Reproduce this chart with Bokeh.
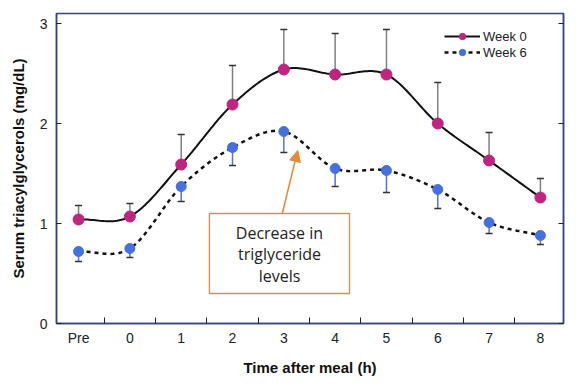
import numpy as np
from bokeh.plotting import figure
from bokeh.models import (FixedTicker, LinearAxis, Range1d, Legend, LegendItem,
                          BoxAnnotation, Arrow, NormalHead, Whisker, ColumnDataSource, TeeHead)
from bokeh.core.properties import value
from bokeh.embed import file_html
from bokeh.resources import INLINE

# ---- data ----
categories = ["Pre", "0", "1", "2", "3", "4", "5", "6", "7", "8"]
week0_mean = [1.04, 1.07, 1.59, 2.19, 2.54, 2.49, 2.49, 2.00, 1.63, 1.26]
week0_upper = [1.18, 1.20, 1.89, 2.58, 2.94, 2.90, 2.94, 2.41, 1.91, 1.45]
week6_mean = [0.72, 0.75, 1.37, 1.76, 1.92, 1.55, 1.53, 1.34, 1.01, 0.88]
week6_lower = [0.62, 0.66, 1.22, 1.58, 1.71, 1.37, 1.31, 1.15, 0.90, 0.79]
y_ticks = [0, 1, 2, 3]
annotation_lines = ["Decrease in", "triglyceride", "levels"]

MAGENTA = "#bf2580"
BLUE = "#4470e0"
FRAME = "#33467e"
FONT = "Liberation Sans"

xs = list(range(len(categories)))
mids = [i + 0.5 for i in xs[:-1]]


def catmull_rom(x, y, n=24):
    x = np.asarray(x, float)
    y = np.asarray(y, float)
    px = np.concatenate([[2 * x[0] - x[1]], x, [2 * x[-1] - x[-2]]])
    py = np.concatenate([[2 * y[0] - y[1]], y, [2 * y[-1] - y[-2]]])
    ox, oy = [], []
    for i in range(1, len(px) - 2):
        t = np.linspace(0, 1, n, endpoint=False)
        for arr, out in ((px, ox), (py, oy)):
            p0, p1, p2, p3 = arr[i - 1], arr[i], arr[i + 1], arr[i + 2]
            out.extend(0.5 * ((2 * p1) + (-p0 + p2) * t
                              + (2 * p0 - 5 * p1 + 4 * p2 - p3) * t ** 2
                              + (-p0 + 3 * p1 - 3 * p2 + p3) * t ** 3))
    ox.append(x[-1]); oy.append(y[-1])
    return ox, oy


p = figure(width=580, height=388, output_backend="svg", toolbar_location=None,
           x_range=Range1d(-0.43, 9.45), y_range=Range1d(0, 3.1),
           min_border_left=56, min_border_right=17, min_border_top=13, min_border_bottom=65,
           background_fill_color="white", border_fill_color="white")
p.grid.visible = False
p.outline_line_color = FRAME
p.outline_line_width = 1.5

# x axis: line + inward ticks between categories
xa = p.xaxis[0]
xa.ticker = FixedTicker(ticks=mids, minor_ticks=[])
xa.major_label_overrides = {m: "" for m in mids}
xa.major_label_text_font_size = "0px"
xa.major_label_standoff = 0
xa.major_tick_in = 6
xa.major_tick_out = 0
xa.major_tick_line_color = "#222222"
xa.minor_tick_line_color = None
xa.axis_line_color = FRAME
xa.axis_line_width = 1.5

# second x axis: category labels + title
xb = LinearAxis(ticker=FixedTicker(ticks=xs, minor_ticks=[]))
xb.major_label_overrides = {i: c for i, c in zip(xs, categories)}
xb.axis_line_color = None
xb.major_tick_line_color = None
xb.major_tick_in = 0
xb.major_tick_out = 0
xb.minor_tick_line_color = None
xb.axis_label = "Time after meal (h)"
xb.axis_label_text_font = FONT
xb.axis_label_text_font_style = "bold"
xb.axis_label_text_font_size = "15px"
xb.axis_label_text_color = "#111111"
xb.axis_label_standoff = 10
xb.major_label_text_font = FONT
xb.major_label_text_font_size = "14px"
xb.major_label_text_color = "#222222"
xb.major_label_standoff = 6
p.add_layout(xb, "below")

# y axis
ya = p.yaxis[0]
ya.ticker = FixedTicker(ticks=y_ticks, minor_ticks=[])
ya.major_tick_in = 5
ya.major_tick_out = 0
ya.major_tick_line_color = "#222222"
ya.minor_tick_line_color = None
ya.axis_line_color = FRAME
ya.axis_line_width = 1.5
ya.axis_label = "Serum triacylglycerols (mg/dL)"
ya.axis_label_text_font = FONT
ya.axis_label_text_font_style = "bold"
ya.axis_label_text_font_size = "15px"
ya.axis_label_text_color = "#111111"
ya.axis_label_standoff = 10
ya.major_label_text_font = FONT
ya.major_label_text_font_size = "14px"
ya.major_label_text_color = "#222222"
ya.major_label_standoff = 9

ra = LinearAxis(ticker=FixedTicker(ticks=y_ticks, minor_ticks=[]))
ra.major_tick_in = 5
ra.major_tick_out = 0
ra.major_tick_line_color = "#222222"
ra.minor_tick_line_color = None
ra.axis_line_color = FRAME
ra.axis_line_width = 1.5
ra.major_label_text_font_size = "0px"
ra.major_label_text_color = None
p.add_layout(ra, "right")

# error bars
src0 = ColumnDataSource(dict(x=xs, base=week0_mean, upper=week0_upper))
src6 = ColumnDataSource(dict(x=xs, base=week6_mean, lower=week6_lower))
w0 = Whisker(source=src0, base="x", lower="base", upper="upper", line_color="#808080",
             line_width=1.5,
             upper_head=TeeHead(size=7, line_color="#333333", line_width=1.5),
             lower_head=None)
w6 = Whisker(source=src6, base="x", lower="lower", upper="base", line_color="#5a72c8",
             line_width=1.5,
             lower_head=TeeHead(size=7, line_color="#333333", line_width=1.5),
             upper_head=None)
p.add_layout(w0)
p.add_layout(w6)

# curves
cx0, cy0 = catmull_rom(xs, week0_mean)
cx6, cy6 = catmull_rom(xs, week6_mean)
l0 = p.line(cx0, cy0, line_color="#111111", line_width=2)
l6 = p.line(cx6, cy6, line_color="#111111", line_width=2.5, line_dash="4 4")
s0 = p.scatter(xs, week0_mean, size=11, fill_color=MAGENTA, line_color=MAGENTA)
s6 = p.scatter(xs, week6_mean, size=10, fill_color=BLUE, line_color=BLUE)

legend = Legend(items=[LegendItem(label="Week 0", renderers=[l0, s0]),
                       LegendItem(label="Week 6", renderers=[l6, s6])],
                location=(388, 263), border_line_color=None, background_fill_alpha=0,
                label_text_font=FONT, label_text_font_size="13px",
                label_text_color="#222222", glyph_width=36, glyph_height=16,
                label_height=16, spacing=0, padding=4, margin=0, label_standoff=3)
p.add_layout(legend)

# annotation box with arrow
box = BoxAnnotation(left=2.55, right=5.28, top=1.10, bottom=0.30,
                    fill_color="white", fill_alpha=1.0,
                    line_color="#e08a50", line_alpha=1.0, line_width=1.3)
p.add_layout(box)
p.add_layout(Arrow(x_start=3.97, y_start=1.10, x_end=4.27, y_end=1.73,
                   line_color="#e8883a", line_width=1.5,
                   end=NormalHead(size=11, fill_color="#e8883a", line_color="#e8883a")))
line_y = [0.91, 0.695, 0.48]
txt = p.text(x=[3.915] * 3, y=line_y, text=annotation_lines, text_align="center",
             text_baseline="middle", text_font=value("Open Sans"), text_font_size="16px",
             text_color="#222222")
txt.level = "overlay"

open("out.html", "w").write(file_html(p, INLINE))
